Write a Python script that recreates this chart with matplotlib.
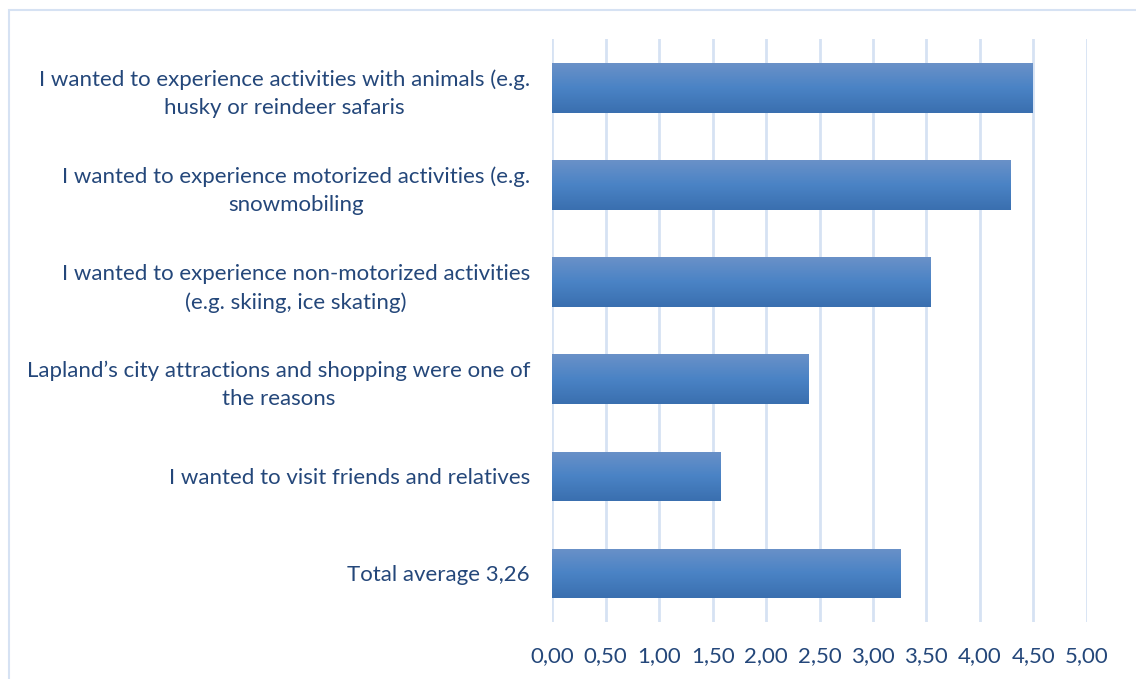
import matplotlib.pyplot as plt
import numpy as np
from matplotlib.colors import LinearSegmentedColormap
from matplotlib.patches import Rectangle

labels = [
    "I wanted to experience activities with animals (e.g.\nhusky or reindeer safaris",
    "I wanted to experience motorized activities (e.g.\nsnowmobiling",
    "I wanted to experience non-motorized activities\n(e.g. skiing, ice skating)",
    "Lapland\u2019s city attractions and shopping were one of\nthe reasons",
    "I wanted to visit friends and relatives",
    "Total average 3,26",
]
values = [4.50, 4.29, 3.54, 2.40, 1.58, 3.26]
xticks = np.arange(0, 5.01, 0.5)

text_color = "#24477A"
grid_color = "#D6E2F3"
bar_cmap = LinearSegmentedColormap.from_list(
    "bar_grad", ["#3A6FAF", "#4A83C5", "#6A91C8"]
)

plt.rcParams["font.family"] = ["Lato", "DejaVu Sans"]

fig = plt.figure(figsize=(11.36, 6.79), dpi=100)
ax = fig.add_axes([552.3 / 1136, 1 - 622 / 679, (1086.7 - 552.3) / 1136, (622 - 39.3) / 679])

# outer chart border
fig.patches.append(
    Rectangle((9 / 1136, -0.1), 1.2, 1.1 - 10 / 679, transform=fig.transFigure,
              fill=False, edgecolor=grid_color, linewidth=1.5)
)

ypos = np.arange(len(values))
bar_h = 0.51
bars = ax.barh(ypos, values, height=bar_h, color="none", edgecolor="none", zorder=2)

# vertical gradient fill, clipped to each bar
grad = np.linspace(0, 1, 256).reshape(-1, 1)
for b in bars:
    x0, y0 = b.get_x(), b.get_y()
    w, h = b.get_width(), b.get_height()
    im = ax.imshow(grad, cmap=bar_cmap, aspect="auto", origin="lower",
                   extent=[x0, x0 + w, y0 + h, y0], zorder=2)
    im.set_clip_path(b)

ax.set_xlim(0, 5.0)
ax.set_ylim(len(values) - 0.5, -0.5)
ax.set_xticks(xticks)
ax.set_xticklabels([f"{t:.2f}".replace(".", ",") for t in xticks])
ax.set_yticks(ypos)
ax.set_yticklabels(labels, multialignment="center", linespacing=1.5)

ax.grid(axis="x", color=grid_color, linewidth=2)
ax.set_axisbelow(True)
for s in ax.spines.values():
    s.set_visible(False)
ax.tick_params(axis="both", length=0, labelsize=16, colors=text_color)
ax.tick_params(axis="x", pad=17)
ax.tick_params(axis="y", pad=16)

fig.savefig("out.png", dpi=100)
